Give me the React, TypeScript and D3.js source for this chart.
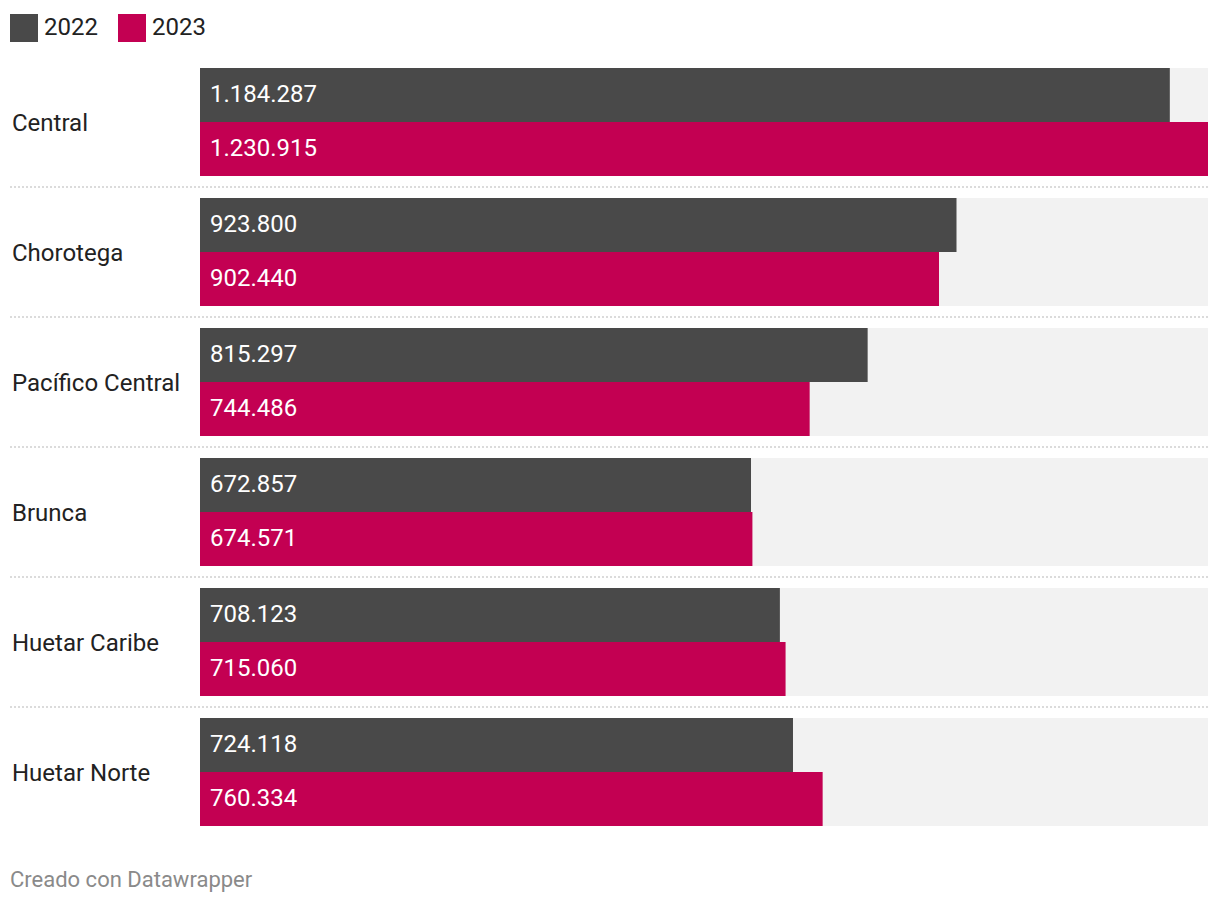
import React from 'react'
import * as d3 from 'd3'

const regions = ['Central', 'Chorotega', 'Pacífico Central', 'Brunca', 'Huetar Caribe', 'Huetar Norte']
const years = ['2022', '2023']
const values2022 = [1184287, 923800, 815297, 672857, 708123, 724118]
const values2023 = [1230915, 902440, 744486, 674571, 715060, 760334]

const colors: Record<string, string> = { '2022': '#494949', '2023': '#c30052' }

const width = 1220
const height = 904
const font = 'Roboto, "Noto Sans", sans-serif'

// Spanish thousands separator
const fmt = (v: number) => d3.format(',')(v).replace(/,/g, '.')

export default function App() {
  const x = d3.scaleLinear().domain([0, d3.max(values2023) as number]).range([200, 1208])
  const y = d3.scaleBand().domain(regions).range([68, 826]).paddingInner(22 / 130).paddingOuter(0)
  const sub = d3.scaleBand().domain(years).range([0, y.bandwidth()]).padding(0)

  const rows = regions.map((r, i) => ({
    region: r,
    series: [
      { year: '2022', value: values2022[i] },
      { year: '2023', value: values2023[i] },
    ],
  }))

  return (
    <svg width={width} height={height} style={{ position: 'absolute', left: 0, top: 0, fontFamily: font }}>
      <rect width={width} height={height} fill="#fff" />

      {/* legend */}
      <g>
        <rect x={10} y={14} width={28} height={28} fill={colors['2022']} />
        <text x={44} y={27} dy="0.33em" fontSize={24} fill="#222">2022</text>
        <rect x={118} y={14} width={28} height={28} fill={colors['2023']} />
        <text x={152} y={27} dy="0.33em" fontSize={24} fill="#222">2023</text>
      </g>

      {rows.map((row, i) => {
        const y0 = y(row.region) || 0
        return (
          <g key={row.region}>
            <rect x={x(0)} y={y0} width={x.range()[1] - x(0)} height={y.bandwidth()} fill="#f2f2f2" />
            <text x={12} y={y0 + y.bandwidth() / 2} dy="0.38em" fontSize={24} fill="#222">
              {row.region}
            </text>
            {row.series.map((s) => (
              <g key={s.year}>
                <rect
                  x={x(0)}
                  y={y0 + (sub(s.year) || 0)}
                  width={x(s.value) - x(0)}
                  height={sub.bandwidth()}
                  fill={colors[s.year]}
                />
                <text
                  x={x(0) + 10}
                  y={y0 + (sub(s.year) || 0) + sub.bandwidth() / 2}
                  dy="0.3em"
                  fontSize={24}
                  fill="#fff"
                >
                  {fmt(s.value)}
                </text>
              </g>
            ))}
            {i < rows.length - 1 && (
              <line
                x1={10}
                x2={1208}
                y1={y0 + y.bandwidth() + 11}
                y2={y0 + y.bandwidth() + 11}
                stroke="#cfcfcf"
                strokeWidth={1.5}
                strokeDasharray="2,2"
              />
            )}
          </g>
        )
      })}

      <text x={10} y={880} dy="0.33em" fontSize={22} fill="#8a8a8a">
        Creado con Datawrapper
      </text>
    </svg>
  )
}
